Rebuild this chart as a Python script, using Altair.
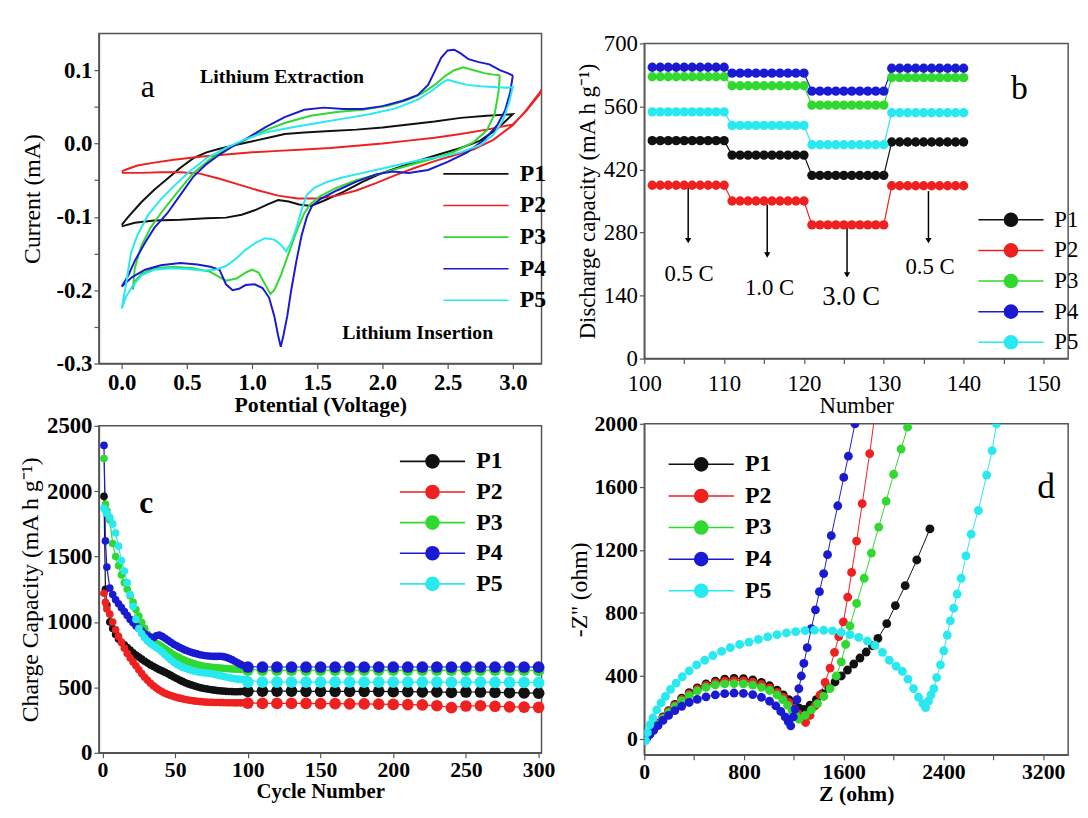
import altair as alt
import pandas as pd

FONT = "Liberation Serif"
SERIES = ["P1", "P2", "P3", "P4", "P5"]
COLORS = ["#111111", "#ee2020", "#30d830", "#1a1ad2", "#28e8f0"]

# ---------------- Panel a : cyclic voltammetry (closed loops) ----------------
a_P1_x = [0.00, 0.10, 0.25, 0.45, 0.65, 0.80, 0.92, 1.02, 1.12, 1.20, 1.28, 1.36, 1.45, 1.55, 1.70, 1.85, 2.00, 2.15, 2.30, 2.45, 2.60, 2.75, 2.88, 3.00,
          2.80, 2.60, 2.40, 2.20, 2.00, 1.80, 1.60, 1.40, 1.25, 1.15, 1.05, 0.95, 0.85, 0.75, 0.65, 0.55, 0.45, 0.35, 0.25, 0.15, 0.05, 0.00]
a_P1_y = [-0.113, -0.108, -0.105, -0.104, -0.102, -0.101, -0.097, -0.091, -0.083, -0.077, -0.079, -0.083, -0.085, -0.078, -0.066, -0.052, -0.040, -0.031, -0.022, -0.014, -0.006, 0.004, 0.020, 0.040,
          0.038, 0.035, 0.030, 0.026, 0.022, 0.019, 0.017, 0.015, 0.013, 0.009, 0.005, 0.001, -0.003, -0.007, -0.012, -0.020, -0.033, -0.048, -0.063, -0.080, -0.100, -0.111]
a_P2_x = [0.00, 0.15, 0.30, 0.45, 0.60, 0.75, 0.90, 1.05, 1.20, 1.35, 1.50, 1.65, 1.80, 1.95, 2.10, 2.25, 2.40, 2.55, 2.70, 2.85, 3.00, 3.10, 3.20, 3.30,
          3.20, 3.10, 3.00, 2.80, 2.60, 2.40, 2.20, 2.00, 1.80, 1.60, 1.40, 1.20, 1.00, 0.80, 0.60, 0.40, 0.25, 0.12, 0.04, 0.00]
a_P2_y = [-0.040, -0.040, -0.039, -0.039, -0.041, -0.048, -0.056, -0.064, -0.071, -0.075, -0.075, -0.071, -0.064, -0.054, -0.043, -0.033, -0.024, -0.016, -0.008, 0.005, 0.025, 0.045, 0.068, 0.095,
          0.066, 0.044, 0.026, 0.019, 0.013, 0.008, 0.004, 0.000, -0.003, -0.006, -0.008, -0.010, -0.012, -0.015, -0.018, -0.022, -0.026, -0.030, -0.035, -0.038]
a_P3_x = [2.90, 2.89, 2.86, 2.80, 2.70, 2.55, 2.40, 2.20, 2.00, 1.80, 1.65, 1.52, 1.45, 1.40, 1.34, 1.28, 1.22, 1.17, 1.14, 1.10, 1.05, 1.00, 0.95, 0.88, 0.80, 0.75, 0.68, 0.55, 0.40, 0.25, 0.15, 0.10, 0.085,
          0.10, 0.15, 0.22, 0.30, 0.42, 0.55, 0.68, 0.80, 0.95, 1.10, 1.25, 1.45, 1.65, 1.85, 2.05, 2.20, 2.30, 2.40, 2.48, 2.55, 2.62, 2.70, 2.78, 2.85, 2.90]
a_P3_y = [0.093, 0.070, 0.040, 0.018, 0.002, -0.011, -0.020, -0.030, -0.040, -0.050, -0.060, -0.072, -0.082, -0.095, -0.120, -0.150, -0.180, -0.200, -0.205, -0.192, -0.176, -0.172, -0.176, -0.184, -0.187, -0.182, -0.175, -0.170, -0.168, -0.170, -0.178, -0.188, -0.199,
          -0.170, -0.140, -0.115, -0.095, -0.068, -0.040, -0.021, -0.008, 0.005, 0.018, 0.028, 0.038, 0.043, 0.046, 0.052, 0.060, 0.068, 0.080, 0.092, 0.100, 0.104, 0.100, 0.096, 0.094, 0.093]
a_P4_x = [3.00, 2.98, 2.94, 2.88, 2.78, 2.65, 2.50, 2.35, 2.20, 2.08, 1.95, 1.80, 1.65, 1.52, 1.46, 1.42, 1.38, 1.34, 1.30, 1.27, 1.24, 1.22, 1.20, 1.17, 1.13, 1.08, 1.02, 0.95, 0.90, 0.85, 0.80, 0.75, 0.68, 0.58, 0.45, 0.30, 0.18, 0.08, 0.00,
          0.05, 0.10, 0.18, 0.25, 0.35, 0.45, 0.55, 0.65, 0.75, 0.85, 0.95, 1.10, 1.25, 1.40, 1.55, 1.70, 1.85, 2.00, 2.15, 2.27, 2.35, 2.40, 2.45, 2.50, 2.55, 2.60, 2.66, 2.74, 2.82, 2.90, 2.96, 3.00]
a_P4_y = [0.093, 0.070, 0.045, 0.025, 0.005, -0.012, -0.025, -0.036, -0.040, -0.038, -0.042, -0.052, -0.064, -0.076, -0.085, -0.100, -0.125, -0.160, -0.200, -0.235, -0.262, -0.277, -0.262, -0.235, -0.210, -0.197, -0.192, -0.193, -0.198, -0.200, -0.192, -0.172, -0.168, -0.165, -0.163, -0.166, -0.172, -0.182, -0.195,
          -0.180, -0.160, -0.135, -0.115, -0.095, -0.070, -0.045, -0.028, -0.015, -0.004, 0.006, 0.022, 0.036, 0.046, 0.049, 0.047, 0.047, 0.051, 0.058, 0.066, 0.080, 0.098, 0.117, 0.127, 0.128, 0.123, 0.115, 0.111, 0.108, 0.100, 0.096, 0.093]
a_P5_x = [0.00, 0.03, 0.07, 0.12, 0.20, 0.30, 0.40, 0.52, 0.65, 0.80, 0.95, 1.10, 1.30, 1.50, 1.70, 1.90, 2.10, 2.27, 2.38, 2.45, 2.50, 2.56, 2.65, 2.75, 2.85, 2.95, 3.00,
          2.97, 2.92, 2.85, 2.75, 2.60, 2.45, 2.30, 2.15, 2.00, 1.85, 1.70, 1.58, 1.48, 1.42, 1.38, 1.34, 1.30, 1.26, 1.22, 1.17, 1.10, 1.03, 0.95, 0.87, 0.80, 0.72, 0.62, 0.50, 0.38, 0.25, 0.15, 0.08, 0.03, 0.00]
a_P5_y = [-0.225, -0.195, -0.150, -0.125, -0.098, -0.076, -0.058, -0.038, -0.020, -0.006, 0.006, 0.015, 0.022, 0.028, 0.034, 0.040, 0.048, 0.060, 0.072, 0.082, 0.087, 0.084, 0.080, 0.078, 0.077, 0.076, 0.077,
          0.055, 0.030, 0.012, -0.002, -0.012, -0.018, -0.022, -0.028, -0.034, -0.040, -0.046, -0.052, -0.060, -0.070, -0.090, -0.115, -0.135, -0.147, -0.138, -0.131, -0.129, -0.135, -0.145, -0.158, -0.167, -0.172, -0.173, -0.171, -0.170, -0.172, -0.180, -0.195, -0.210, -0.225]

# ---------------- Panel b : rate capability ----------------
b_cycle = list(range(101, 141))
b_P1 = [484, 484, 484, 484, 484, 484, 484, 484, 484, 484, 452, 452, 452, 452, 452, 452, 452, 452, 452, 452,
        407, 407, 407, 407, 407, 407, 407, 407, 407, 407, 481, 481, 481, 481, 481, 481, 481, 481, 481, 481]
b_P2 = [385, 385, 385, 385, 385, 385, 385, 385, 385, 385, 350, 350, 350, 350, 350, 350, 350, 350, 350, 350,
        297, 297, 297, 297, 297, 297, 297, 297, 297, 297, 384, 384, 384, 384, 384, 384, 384, 384, 384, 384]
b_P3 = [626, 626, 626, 626, 626, 626, 626, 626, 626, 626, 606, 606, 606, 606, 606, 606, 606, 606, 606, 606,
        563, 563, 563, 563, 563, 563, 563, 563, 563, 563, 624, 624, 624, 624, 624, 624, 624, 624, 624, 624]
b_P4 = [647, 647, 647, 647, 647, 647, 647, 647, 647, 647, 634, 634, 634, 634, 634, 634, 634, 634, 634, 634,
        594, 594, 594, 594, 594, 594, 594, 594, 594, 594, 645, 645, 645, 645, 645, 645, 645, 645, 645, 645]
b_P5 = [548, 548, 548, 548, 548, 548, 548, 548, 548, 548, 518, 518, 518, 518, 518, 518, 518, 518, 518, 518,
        475, 475, 475, 475, 475, 475, 475, 475, 475, 475, 546, 546, 546, 546, 546, 546, 546, 546, 546, 546]
b_rate_text = ["0.5 C", "1.0 C", "0.5 C"]
b_rate_x = [105.6, 115.7, 135.8]
b_rate_y = [188, 157, 204]
b_big_text = ["3.0 C"]
b_big_x = [125.9]
b_big_y = [136]
b_arrow_x = [105.5, 115.4, 125.4, 135.6]
b_arrow_y1 = [380, 342, 291, 372]
b_arrow_y2 = [262, 230, 186, 262]

# ---------------- Panel c : cycling ----------------
c_dense_cycle = [1, 2, 3] + list(range(5, 100, 2))
c_P1_dense = [1960, 1250, 1130, 1000, 950, 905, 870, 845, 825, 805, 785, 765, 748, 732, 716, 700, 686, 672, 660, 648,
              636, 626, 615, 604, 592, 580, 568, 556, 546, 536, 527, 519, 512, 505, 499, 494, 490, 486, 482, 479,
              476, 474, 472, 470, 469, 468, 467, 467, 468, 469, 470]
c_P2_dense = [1220, 1150, 1100, 1060, 1000, 940, 890, 845, 800, 760, 725, 695, 665, 635, 605, 578, 555, 532, 512, 495,
              480, 466, 455, 446, 438, 430, 424, 418, 413, 408, 404, 400, 397, 394, 392, 390, 388, 387, 386, 385,
              385, 384, 384, 383, 383, 383, 382, 382, 382, 382, 382]
c_P3_dense = [2250, 1900, 1850, 1780, 1600, 1500, 1430, 1360, 1300, 1250, 1200, 1150, 1095, 1045, 995, 950, 905, 875, 850, 835,
              825, 810, 795, 780, 765, 750, 738, 726, 715, 705, 696, 688, 680, 673, 668, 663, 660, 657, 654, 652,
              650, 648, 646, 644, 642, 641, 640, 639, 638, 638, 638]
c_P4_dense = [2350, 1620, 1420, 1260, 1210, 1170, 1140, 1110, 1080, 1050, 1020, 995, 970, 950, 930, 910, 895, 885, 880, 895,
              900, 890, 875, 860, 845, 830, 818, 806, 795, 785, 776, 768, 762, 756, 750, 746, 742, 740, 738, 737,
              737, 738, 735, 730, 722, 712, 700, 688, 676, 666, 660]
c_P5_dense = [1870, 1850, 1830, 1800, 1750, 1680, 1580, 1470, 1390, 1300, 1210, 1120, 1020, 950, 910, 880, 855, 835, 820, 805,
              790, 770, 750, 730, 710, 692, 678, 665, 655, 646, 638, 631, 625, 620, 616, 613, 610, 608, 605, 600,
              595, 590, 585, 580, 575, 570, 566, 563, 561, 560, 560]
c_sparse_cycle = list(range(100, 301, 10))
c_P1_sparse = [470, 472, 472, 472, 470, 470, 470, 470, 470, 470, 468, 468, 466, 466, 462, 465, 465, 462, 460, 458, 456]
c_P2_sparse = [380, 378, 378, 378, 378, 376, 376, 374, 374, 372, 370, 368, 366, 360, 345, 358, 360, 356, 352, 350, 348]
c_P3_sparse = [632, 632, 632, 632, 632, 632, 632, 632, 632, 632, 632, 632, 632, 632, 632, 632, 632, 632, 632, 632, 630]
c_P4_sparse = [656, 656, 656, 656, 656, 656, 656, 656, 656, 656, 656, 656, 656, 656, 656, 656, 656, 656, 656, 656, 655]
c_P5_sparse = [540, 540, 540, 540, 540, 540, 540, 540, 540, 540, 540, 540, 540, 540, 538, 540, 540, 538, 538, 538, 536]

# ---------------- Panel d : Nyquist plots ----------------
d_P1_x = [20, 45, 75, 110, 150, 195, 245, 300, 360, 425, 495, 570, 645, 720, 795, 870, 940, 1005, 1065, 1115, 1160, 1200, 1240, 1280,
          1330, 1380, 1430, 1480, 1530, 1580, 1630, 1680, 1730, 1780, 1830, 1874, 1945, 2014, 2093, 2186, 2291]
d_P1_y = [10, 35, 65, 100, 140, 180, 220, 260, 295, 325, 350, 368, 380, 385, 383, 375, 360, 338, 310, 280, 250, 220, 198, 188,
          215, 250, 288, 325, 362, 400, 438, 476, 514, 552, 592, 638, 732, 847, 973, 1136, 1333]
d_P2_x = [20, 45, 75, 110, 150, 195, 245, 300, 360, 425, 495, 570, 645, 720, 795, 870, 940, 1005, 1065, 1115, 1160, 1200, 1235, 1265, 1294,
          1330, 1370, 1410, 1450, 1490, 1526, 1560, 1597, 1632, 1663, 1703, 1748, 1808, 1850]
d_P2_y = [9, 34, 63, 97, 136, 175, 214, 252, 286, 316, 340, 357, 367, 371, 369, 361, 346, 324, 296, 265, 232, 196, 160, 128, 105,
          150, 210, 280, 360, 450, 550, 650, 743, 900, 1057, 1256, 1493, 1811, 2060]
d_P3_x = [20, 45, 75, 110, 150, 195, 245, 300, 360, 425, 495, 570, 645, 720, 795, 870, 940, 1005, 1065, 1110, 1150, 1185, 1215, 1241,
          1290, 1340, 1390, 1440, 1490, 1540, 1580, 1615, 1650, 1703, 1764, 1822, 1880, 1940, 2000, 2060, 2112, 2140]
d_P3_y = [8, 32, 60, 93, 130, 168, 205, 242, 276, 305, 328, 343, 350, 352, 350, 342, 328, 308, 280, 250, 215, 180, 150, 126,
          150, 185, 225, 270, 320, 400, 490, 600, 718, 860, 1020, 1180, 1345, 1510, 1680, 1840, 1979, 2060]
d_P4_x = [20, 45, 75, 110, 150, 195, 245, 300, 360, 425, 495, 570, 645, 720, 795, 870, 940, 1005, 1055, 1095, 1130, 1155, 1175,
          1195, 1210, 1225, 1240, 1260, 1280, 1307, 1340, 1373, 1405, 1439, 1470, 1500, 1552, 1600, 1637, 1690, 1700]
d_P4_y = [8, 30, 55, 85, 118, 150, 180, 208, 232, 252, 268, 280, 288, 292, 290, 282, 265, 240, 210, 175, 140, 110, 84,
          140, 190, 250, 320, 400, 480, 580, 700, 820, 935, 1050, 1170, 1290, 1480, 1660, 1795, 2000, 2040]
d_P5_x = [10, 25, 45, 70, 100, 135, 170, 210, 255, 305, 360, 420, 485, 550, 620, 690, 765, 840, 915, 990, 1065, 1140, 1215, 1290, 1365,
          1440, 1510, 1580, 1650, 1720, 1790, 1850, 1910, 1965, 2020, 2070, 2115, 2160, 2200, 2235, 2257, 2280, 2300, 2323, 2345,
          2376, 2402, 2430, 2455, 2482, 2510, 2542, 2580, 2622, 2680, 2746, 2790, 2825, 2840]
d_P5_y = [-10, 40, 90, 135, 185, 230, 270, 315, 355, 395, 432, 470, 500, 530, 556, 580, 600, 615, 632, 648, 662, 673, 682, 688, 691,
          690, 686, 676, 662, 645, 622, 595, 550, 500, 462, 430, 380, 320, 265, 225, 199, 240, 280, 320, 390,
          471, 560, 660, 750, 830, 920, 1020, 1162, 1300, 1450, 1675, 1830, 2000, 2060]

# tick positions (majors labelled, minors unlabelled)
a_xticks = [0, 0.25, 0.5, 0.75, 1.0, 1.25, 1.5, 1.75, 2.0, 2.25, 2.5, 2.75, 3.0]
a_yticks = [-0.3, -0.25, -0.2, -0.15, -0.1, -0.05, 0.0, 0.05, 0.1]
b_xticks = [100, 105, 110, 115, 120, 125, 130, 135, 140, 145, 150]
b_yticks = [0, 70, 140, 210, 280, 350, 420, 490, 560, 630, 700]
c_xticks = [0, 25, 50, 75, 100, 125, 150, 175, 200, 225, 250, 275, 300]
c_yticks = [0, 250, 500, 750, 1000, 1250, 1500, 1750, 2000, 2250, 2500]
d_xticks = [0, 400, 800, 1200, 1600, 2000, 2400, 2800, 3200]
d_yticks = [0, 200, 400, 600, 800, 1000, 1200, 1400, 1600, 1800, 2000]

# ---------------- build tables ----------------
def loop_rows(name, xs, ys):
    return [{"s": name, "k": i, "v": x, "i": y} for i, (x, y) in enumerate(zip(xs, ys))]

rows_a = []
for n, xs, ys in [("P1", a_P1_x, a_P1_y), ("P2", a_P2_x, a_P2_y), ("P3", a_P3_x, a_P3_y),
                  ("P4", a_P4_x, a_P4_y), ("P5", a_P5_x, a_P5_y)]:
    rows_a += loop_rows(n, xs, ys)
df_a = pd.DataFrame(rows_a)

rows_b = []
for n, ys in zip(SERIES, [b_P1, b_P2, b_P3, b_P4, b_P5]):
    rows_b += [{"s": n, "x": c, "y": y} for c, y in zip(b_cycle, ys)]
df_b = pd.DataFrame(rows_b)

rows_cd, rows_cs = [], []
for n, yd, ys in zip(SERIES, [c_P1_dense, c_P2_dense, c_P3_dense, c_P4_dense, c_P5_dense],
                     [c_P1_sparse, c_P2_sparse, c_P3_sparse, c_P4_sparse, c_P5_sparse]):
    rows_cd += [{"s": n, "x": c, "y": y} for c, y in zip(c_dense_cycle, yd)]
    rows_cs += [{"s": n, "x": c, "y": y} for c, y in zip(c_sparse_cycle, ys)]
df_cd = pd.DataFrame(rows_cd)
df_cs = pd.DataFrame(rows_cs)
df_cl = pd.concat([df_cd, df_cs[df_cs.x > 100]], ignore_index=True)

rows_d = []
for n, xs, ys in [("P1", d_P1_x, d_P1_y), ("P2", d_P2_x, d_P2_y), ("P3", d_P3_x, d_P3_y),
                  ("P4", d_P4_x, d_P4_y), ("P5", d_P5_x, d_P5_y)]:
    rows_d += loop_rows(n, xs, ys)
df_d = pd.DataFrame(rows_d)

# ---------------- styling helpers ----------------
AX = "#555555"
LINE_PATH = "M-9,0L1,0"
BALL_PATH = "M-9,0L1,0M-3,0A1,1,0,1,1,-5,0A1,1,0,1,1,-3,0Z"


def legend(x, y, path, bold, fs=24, rowpad=8):
    return alt.Legend(title=None, orient="none", legendX=x, legendY=y, symbolType=path,
                      symbolSize=174, symbolStrokeWidth=1.6, labelFont=FONT, labelFontSize=fs,
                      labelFontWeight="bold" if bold else "normal", labelColor="black",
                      labelOffset=6, rowPadding=rowpad, padding=0, symbolOpacity=1)


def axis(title, values, expr, bold_labels, bold_title, lfs=22, tfs=22, tpad=6, lpad=2):
    return alt.Axis(title=title, values=values, labelExpr=expr, labelFont=FONT, titleFont=FONT,
                    labelFontSize=lfs, titleFontSize=tfs,
                    labelFontWeight="bold" if bold_labels else "normal",
                    titleFontWeight="bold" if bold_title else "normal",
                    labelColor="black", titleColor="black", domainColor=AX, tickColor=AX,
                    domainWidth=1.5, tickWidth=1.2, tickSize=5, labelPadding=lpad, titlePadding=tpad,
                    grid=False, labelOverlap=False, labelFlush=False)


def dec_expr(step):
    # label only multiples of `step`, one decimal, plain hyphen for negatives
    return ("abs(datum.value/%g - round(datum.value/%g)) < 0.001 ? "
            "(datum.value < -0.0001 ? '-' + format(-datum.value, '.1f') : format(abs(datum.value), '.1f')) : ''"
            % (step, step))


def int_expr(step):
    return "abs(datum.value %% %g) < 0.001 ? format(datum.value, 'd') : ''" % step


stroke_scale = alt.Scale(domain=SERIES, range=COLORS)

# ---------------- Panel a ----------------
leg_a = legend(396, 130, LINE_PATH, True)
a_lines = alt.Chart(df_a).mark_line(strokeWidth=2, clip=True).encode(
    x=alt.X("v:Q", scale=alt.Scale(domain=[-0.175, 3.22], nice=False, zero=False),
            axis=axis("Potential (Voltage)", a_xticks, dec_expr(0.5), True, True, 23, 22, 1, 3)),
    y=alt.Y("i:Q", scale=alt.Scale(domain=[-0.3, 0.15], nice=False, zero=False),
            axis=axis("Current (mA)", a_yticks, dec_expr(0.1), True, False, 23, 24, 12)),
    stroke=alt.Stroke("s:N", scale=stroke_scale, legend=leg_a),
    order="k:Q",
)
a_notes = pd.DataFrame({"v": [1.23, 2.27], "i": [0.091, -0.258], "t": ["Lithium Extraction", "Lithium Insertion"]})
a_text = alt.Chart(a_notes).mark_text(font=FONT, fontSize=20, fontWeight="bold", color="black").encode(
    x="v:Q", y="i:Q", text="t:N")
a_tag = alt.Chart(pd.DataFrame({"v": [0.2], "i": [0.077], "t": ["a"]})).mark_text(
    font=FONT, fontSize=32, color="black").encode(x="v:Q", y="i:Q", text="t:N")
panel_a = alt.layer(a_lines, a_text, a_tag).properties(width=448, height=334)

# ---------------- Panel b ----------------
leg_b = legend(386, 167, BALL_PATH, False, 23, 7)
bx = alt.X("x:Q", scale=alt.Scale(domain=[100, 153.1], nice=False, zero=False),
           axis=axis("Number", b_xticks, int_expr(10), False, False, 23, 23, 0, 9))
by = alt.Y("y:Q", scale=alt.Scale(domain=[0, 700], nice=False),
           axis=axis("Discharge capacity (mA h g⁻¹)", b_yticks, int_expr(140), False, False, 23, 23, 4))
b_line = alt.Chart(df_b).mark_line(strokeWidth=1.2).encode(
    x=bx, y=by, stroke=alt.Stroke("s:N", scale=stroke_scale, legend=leg_b))
b_pts = alt.Chart(df_b).mark_point(filled=True, size=90, opacity=1).encode(
    x="x:Q", y="y:Q", fill=alt.Fill("s:N", scale=stroke_scale, legend=leg_b))
df_arrow = pd.DataFrame({"x": b_arrow_x, "y": b_arrow_y1, "y2": b_arrow_y2})
b_rule = alt.Chart(df_arrow).mark_rule(color="black", strokeWidth=1.5).encode(x="x:Q", y="y:Q", y2="y2:Q")
b_head = alt.Chart(df_arrow).mark_point(shape="triangle-down", filled=True, size=40, color="black", opacity=1).encode(
    x="x:Q", y="y2:Q")
b_txt = alt.Chart(pd.DataFrame({"x": b_rate_x, "y": b_rate_y, "t": b_rate_text})).mark_text(
    font=FONT, fontSize=23, color="black").encode(x="x:Q", y="y:Q", text="t:N")
b_big = alt.Chart(pd.DataFrame({"x": b_big_x, "y": b_big_y, "t": b_big_text})).mark_text(
    font=FONT, fontSize=27, color="black").encode(x="x:Q", y="y:Q", text="t:N")
b_tag = alt.Chart(pd.DataFrame({"x": [147.0], "y": [598], "t": ["b"]})).mark_text(
    font=FONT, fontSize=34, color="black").encode(x="x:Q", y="y:Q", text="t:N")
panel_b = alt.layer(b_line, b_rule, b_head, b_pts, b_txt, b_big, b_tag).properties(width=429, height=319)

# ---------------- Panel c ----------------
leg_c = legend(352, 24, BALL_PATH, True, 24, 7)
cx = alt.X("x:Q", scale=alt.Scale(domain=[-2.5, 302], nice=False, zero=False),
           axis=axis("Cycle Number", c_xticks, int_expr(50), True, True, 22, 21, 0, 2))
cy = alt.Y("y:Q", scale=alt.Scale(domain=[0, 2500], nice=False),
           axis=axis("Charge Capacity (mA h g⁻¹)", c_yticks, int_expr(500), True, False, 23, 24, 4))
c_line = alt.Chart(df_cl).mark_line(strokeWidth=1.2).encode(
    x=cx, y=cy, stroke=alt.Stroke("s:N", scale=stroke_scale, legend=leg_c))
c_dense = alt.Chart(df_cd).mark_point(filled=True, size=60, opacity=1).encode(
    x="x:Q", y="y:Q", fill=alt.Fill("s:N", scale=stroke_scale, legend=leg_c))
c_sparse = alt.Chart(df_cs).mark_point(filled=True, size=140, opacity=1).encode(
    x="x:Q", y="y:Q", fill=alt.Fill("s:N", scale=stroke_scale, legend=leg_c))
c_tag = alt.Chart(pd.DataFrame({"x": [30], "y": [1910], "t": ["c"]})).mark_text(
    font=FONT, fontSize=32, fontWeight="bold", color="black").encode(x="x:Q", y="y:Q", text="t:N")
panel_c = alt.layer(c_line, c_dense, c_sparse, c_tag).properties(width=448, height=331)

# ---------------- Panel d ----------------
leg_d = legend(72, 29, BALL_PATH, True, 24, 8)
dx = alt.X("v:Q", scale=alt.Scale(domain=[0, 3400], nice=False, zero=False),
           axis=axis("Z (ohm)", d_xticks, int_expr(800), True, True, 22, 22, 1, 2))
dy = alt.Y("i:Q", scale=alt.Scale(domain=[-100, 2000], nice=False, zero=False),
           axis=axis("-Z'' (ohm)", d_yticks, int_expr(400), True, False, 22, 24, 2))
d_line = alt.Chart(df_d).mark_line(strokeWidth=1, clip=True).encode(
    x=dx, y=dy, stroke=alt.Stroke("s:N", scale=stroke_scale, legend=leg_d), order="k:Q")
d_pts = alt.Chart(df_d[df_d.i <= 2010]).mark_point(filled=True, size=80, opacity=1, clip=True).encode(
    x="v:Q", y="i:Q", fill=alt.Fill("s:N", scale=stroke_scale, legend=leg_d))
d_tag = alt.Chart(pd.DataFrame({"v": [3224], "i": [1600], "t": ["d"]})).mark_text(
    font=FONT, fontSize=36, color="black").encode(x="v:Q", y="i:Q", text="t:N")
panel_d = alt.layer(d_line, d_pts, d_tag).properties(width=429, height=335)

# spacer that pushes the right column down a little
spacer = alt.Chart(pd.DataFrame({"z": [0]})).mark_point(opacity=0).encode(
    x=alt.value(0), y=alt.value(0)).properties(width=429, height=1, view=alt.ViewBackground(stroke="transparent"))

# ---------------- compose ----------------
left = alt.vconcat(panel_a, panel_c, spacing=-3).resolve_scale(stroke="independent", fill="independent")
right_inner = alt.vconcat(panel_b, panel_d, spacing=-7).resolve_scale(stroke="independent", fill="independent")
right = alt.vconcat(spacer, right_inner, spacing=-6).resolve_scale(stroke="independent", fill="independent")
chart = alt.hconcat(left, right, spacing=11).resolve_scale(stroke="independent", fill="independent").properties(
    padding={"left": 10, "top": 17, "right": 0, "bottom": 0}
).configure(font=FONT, background="white").configure_view(stroke=AX, strokeWidth=1.5)

chart.save("out.html", embed_options={"renderer": "svg", "actions": False})
